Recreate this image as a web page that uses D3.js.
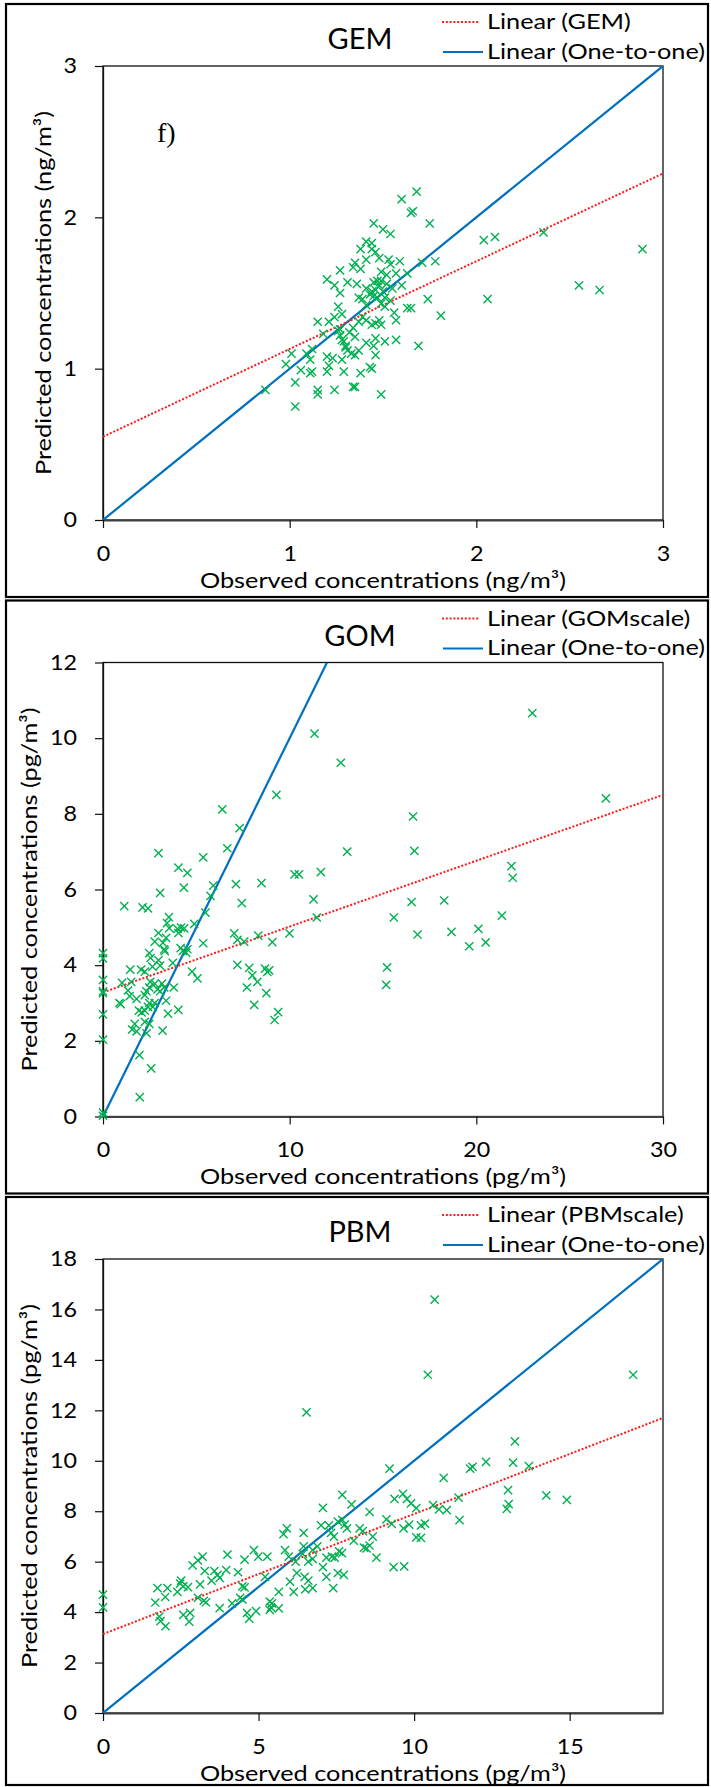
<!DOCTYPE html>
<html>
<head>
<meta charset="utf-8">
<script src="https://cdn.jsdelivr.net/npm/d3@7"></script>
<style>
  body { margin: 0; background: #fff; }
  svg { display: block; font-family: Lato, 'Open Sans', sans-serif; }
</style>
</head>
<body>
<svg id="chart" width="711" height="1787"></svg>
<script>
'use strict';

// GEM panel (ng/m3)
const gemObserved = [1.68, 1.60, 1.65, 1.66, 1.45, 1.75, 1.50, 1.54, 2.04, 2.10, 2.36, 2.89, 2.55, 2.66, 2.06, 1.78, 1.71, 1.74, 1.81, 1.69,
  0.87, 0.98, 1.01, 1.03, 1.03, 1.15, 1.15, 1.24, 1.34, 1.35, 1.49, 1.06, 1.12, 1.11, 1.20, 1.29, 1.38, 1.43, 1.44, 1.21,
  1.11, 1.20, 1.23, 1.28, 1.35, 1.46, 1.09, 1.12, 1.30, 1.31, 1.37, 1.41, 1.46, 1.51, 1.57, 1.45, 1.15, 1.18, 1.21, 1.24,
  1.27, 1.27, 1.29, 1.26, 1.28, 1.34, 1.35, 1.37, 1.39, 1.41, 1.44, 1.46, 1.48, 1.49, 1.57, 1.56, 1.51, 1.63, 1.65, 1.60,
  1.20, 1.24, 1.27, 1.27, 1.31, 1.36, 1.34, 1.35, 1.38, 1.38, 1.41, 1.44, 1.44, 1.46, 1.41, 1.48, 1.53, 1.54, 1.59, 1.49,
  1.52, 1.57, 1.63, 1.45, 1.47, 1.49, 1.41, 1.43, 1.44, 1.45, 1.37, 1.39, 1.50, 1.51, 1.55, 1.54, 1.49, 1.41, 1.26, 1.28,
  1.30, 1.33, 1.32, 1.48, 1.46, 1.52, 1.47];
const gemPredicted = [2.17, 2.12, 2.03, 2.04, 1.96, 1.96, 1.92, 1.89, 1.85, 1.87, 1.90, 1.79, 1.55, 1.52, 1.46, 1.71, 1.70, 1.46, 1.35, 1.15,
  0.86, 1.03, 1.10, 0.91, 0.75, 0.86, 0.83, 0.86, 0.88, 0.88, 0.83, 0.99, 0.98, 0.97, 0.98, 0.98, 0.97, 1.01, 1.00, 1.02,
  1.06, 1.08, 1.07, 1.06, 1.09, 1.09, 1.10, 1.13, 1.15, 1.12, 1.12, 1.17, 1.20, 1.18, 1.19, 1.15, 1.31, 1.23, 1.31, 1.34,
  1.26, 1.22, 1.18, 1.41, 1.36, 1.27, 1.21, 1.31, 1.34, 1.32, 1.29, 1.30, 1.32, 1.29, 1.32, 1.37, 1.41, 1.40, 1.40, 1.55,
  1.59, 1.55, 1.50, 1.65, 1.57, 1.56, 1.67, 1.70, 1.66, 1.79, 1.84, 1.83, 1.79, 1.77, 1.72, 1.73, 1.72, 1.69, 1.71, 1.64,
  1.62, 1.63, 1.63, 1.57, 1.58, 1.58, 1.53, 1.49, 1.51, 1.48, 1.47, 1.46, 1.51, 1.47, 1.53, 1.45, 1.43, 1.42, 1.25, 1.19,
  1.14, 1.10, 1.24, 1.55, 1.52, 1.56, 1.47];
const gemFit = [0.55, 0.58]; // intercept, slope
const gemTicks = [0, 1, 2, 3];

// GOM panel (pg/m3)
const gomObserved = [23.0, 11.33, 12.74, 9.29, 26.94, 6.39, 7.32, 16.61, 6.66, 16.68, 13.08, 2.97, 5.37, 4.04, 4.52, 10.26, 10.50, 11.67, 21.88, 21.95,
  4.33, 5.91, 7.12, 8.49, 3.06, 5.76, 11.28, 7.44, 16.53, 18.28, 1.14, 2.12, 2.41, 3.53, 11.45, 15.58, 21.37, 5.49, 3.43, 3.55,
  4.89, 3.99, 4.18, 4.35, 4.04, 2.97, 7.03, 9.99, 8.32, 20.11, 18.67, 16.85, 2.77, 3.38, 3.21, 5.37, 7.20, 7.56, 9.07, 20.50,
  19.62, 3.28, 3.31, 4.16, 4.28, 4.52, 2.48, 0, 0, 2.55, 2.97, 3.74, 4.45, 15.22, 7.20, 7.83, 8.68, 8.80, 8.90, 8.00,
  8.27, 7.71, 8.75, 8.10, 9.38, 9.19, 15.17, 4.77, 5.06, 1.46, 2.04, 2.24, 2.65, 3.06, 0, 0, 0, 0.88, 0.95, 1.02,
  1.51, 1.34, 1.43, 1.80, 2.24, 2.33, 2.48, 2.53, 2.77, 2.92, 3.06, 3.28, 3.16, 3.38, 3.79, 3.48, 4.04, 2.67, 2.77, 1.92,
  2.07, 2.24, 2.41, 2.48, 0, 1.70, 1.56, 1.80, 2.24, 2.33, 2.48, 3.19, 0, 1.95, 2.58, 1.97, 0, 0];
const gomPredicted = [10.66, 10.12, 9.35, 8.50, 8.41, 8.12, 7.62, 7.93, 7.09, 7.02, 7.00, 6.96, 6.85, 6.58, 6.44, 6.40, 6.40, 6.46, 6.62, 6.31,
  6.05, 6.10, 6.14, 6.17, 5.91, 5.83, 5.74, 5.64, 5.67, 5.71, 5.56, 5.53, 5.50, 5.27, 5.26, 5.26, 5.31, 5.39, 5.11, 4.98,
  5.09, 4.96, 4.99, 4.97, 4.85, 4.85, 4.84, 4.84, 4.78, 4.96, 4.88, 4.81, 4.62, 4.72, 4.59, 4.58, 4.67, 4.62, 4.61, 4.60,
  4.50, 4.42, 4.37, 4.45, 4.38, 4.42, 4.32, 4.32, 4.18, 4.19, 4.13, 4.06, 4.33, 3.94, 4.01, 3.93, 3.91, 3.82, 3.86, 3.73,
  3.56, 3.41, 3.26, 2.95, 2.76, 2.55, 3.48, 3.83, 3.65, 3.88, 3.88, 3.83, 3.96, 3.99, 3.61, 3.31, 3.26, 3.00, 2.97, 3.53,
  3.56, 3.33, 3.18, 3.11, 3.21, 3.31, 3.41, 3.56, 3.51, 3.36, 3.31, 3.41, 3.51, 3.06, 3.41, 2.72, 2.82, 2.90, 3.00, 2.80,
  2.75, 2.80, 2.90, 3.00, 2.70, 2.45, 2.30, 2.25, 2.50, 2.20, 2.45, 2.27, 2.03, 1.62, 1.27, 0.51, 0.10, 0.02];
const gomFit = [3.28, 0.174];
const gomTicksX = [0, 10, 20, 30];
const gomTicksY = [0, 2, 4, 6, 8, 10, 12];

// PBM panel (pg/m3)
const pbmObserved = [10.66, 10.44, 17.04, 6.54, 13.24, 12.31, 13.18, 11.80, 11.88, 13.69, 9.21, 10.95, 7.69, 9.64, 14.25, 14.91, 13.02, 9.37, 9.77, 11.43,
  7.99, 7.07, 9.90, 10.07, 10.61, 10.80, 11.05, 13.04, 12.98, 11.46, 8.57, 9.11, 9.28, 7.69, 7.77, 7.55, 7.26, 7.01, 7.84, 8.25,
  7.33, 7.42, 6.45, 5.80, 5.91, 8.35, 9.66, 9.84, 10.22, 10.35, 10.07, 10.22, 8.67, 8.06, 8.39, 8.47, 8.57, 6.89, 6.74, 6.45,
  5.85, 6.42, 7.59, 7.68, 7.36, 7.45, 7.18, 8.79, 9.34, 9.68, 5.97, 6.19, 6.60, 6.74, 7.07, 7.55, 7.74, 7.18, 7.40, 6.48,
  6.60, 6.23, 6.01, 6.50, 6.74, 6.13, 5.65, 5.65, 5.43, 5.36, 5.40, 5.36, 5.21, 5.28, 4.99, 4.85, 4.55, 4.34, 4.48, 4.55,
  4.41, 4.48, 4.92, 4.63, 4.70, 4.15, 4.00, 3.96, 3.68, 3.58, 3.75, 3.49, 3.20, 3.05, 2.88, 3.27, 3.12, 3.24, 3.31, 3.05,
  3.75, 2.73, 2.58, 2.51, 2.48, 2.39, 2.07, 2.00, 1.75, 1.68, 1.81, 1.85, 2.01, 2.58, 2.80, 2.77, 0, 0];
const pbmPredicted = [16.39, 13.41, 13.41, 11.92, 10.77, 9.96, 9.93, 9.69, 9.76, 9.79, 9.69, 9.32, 8.65, 8.69, 8.63, 8.45, 8.84, 8.49, 8.49, 8.54,
  8.27, 8.13, 8.31, 8.12, 8.24, 8.07, 8.04, 8.28, 8.09, 7.65, 7.97, 7.68, 7.50, 7.66, 7.47, 7.59, 7.44, 7.44, 7.32, 7.32,
  7.14, 6.99, 7.14, 7.09, 7.32, 7.21, 7.32, 7.47, 7.44, 7.51, 6.96, 6.94, 6.99, 6.83, 6.56, 6.53, 6.64, 6.61, 6.46, 6.61,
  6.46, 6.31, 6.41, 6.34, 6.20, 6.16, 6.16, 6.16, 5.78, 5.81, 6.20, 6.00, 6.00, 6.11, 5.78, 5.55, 5.48, 5.40, 4.95, 5.40,
  5.25, 5.55, 5.21, 4.90, 4.95, 4.80, 4.80, 4.15, 4.35, 4.42, 4.19, 4.09, 5.40, 6.20, 6.20, 6.46, 6.08, 5.58, 5.02, 4.98,
  4.57, 4.50, 4.04, 3.97, 3.74, 4.35, 6.28, 5.67, 5.48, 5.63, 5.36, 5.25, 6.20, 6.05, 5.85, 5.63, 5.10, 4.45, 4.39, 4.57,
  4.16, 4.99, 5.02, 5.25, 5.13, 4.80, 4.95, 4.60, 4.95, 4.38, 3.82, 3.64, 3.44, 3.89, 3.97, 3.62, 4.69, 4.19];
const pbmFit = [3.13, 0.476];
const pbmTicksX = [0, 5, 10, 15];
const pbmTicksY = [0, 2, 4, 6, 8, 10, 12, 14, 16, 18];

const GREEN = '#00b050';
const BLUE = '#0070c0';
const RED = '#ff1a1a';

const plotLeft = 103;
const plotRight = 663;
const plotHeight = 454;
// the pasted Excel charts are a little stretched sideways
const SX = 1.15;
const TICK_SX = 1.11;

const panels = [
  {title: 'GEM', unit: 'ng/m³', obs: gemObserved, pred: gemPredicted, fit: gemFit, xMax: 3, yMax: 3,
    xTicks: gemTicks, yTicks: gemTicks, fitLabel: 'Linear (GEM)', top: 66, yTitleX: 51, tag: 'f)'},
  {title: 'GOM', unit: 'pg/m³', obs: gomObserved, pred: gomPredicted, fit: gomFit, xMax: 30, yMax: 12,
    xTicks: gomTicksX, yTicks: gomTicksY, fitLabel: 'Linear (GOMscale)', top: 662.5, yTitleX: 37},
  {title: 'PBM', unit: 'pg/m³', obs: pbmObserved, pred: pbmPredicted, fit: pbmFit, xMax: 18, yMax: 18,
    xTicks: pbmTicksX, yTicks: pbmTicksY, fitLabel: 'Linear (PBMscale)', top: 1259, yTitleX: 37},
];

const svg = d3.select('#chart');

function stretchedText(parent, x, y, size, str, anchor, rotate) {
  const rot = rotate ? ` rotate(${rotate})` : '';
  return parent.append('text')
    .attr('transform', `translate(${x},${y})${rot} scale(${SX},1)`)
    .attr('text-anchor', anchor || 'start')
    .style('font-size', `${size}px`)
    .text(str);
}

function drawPanel(p, i) {
  const g = svg.append('g').attr('transform', `translate(0,${p.top})`);

  // outer frame of each pasted chart
  const boxTop = -62;
  const boxBottom = Math.min(plotHeight + 77, 1785 - p.top);
  g.append('rect')
    .attr('x', 6).attr('y', boxTop)
    .attr('width', 702).attr('height', boxBottom - boxTop)
    .attr('fill', 'none').attr('stroke', '#000').attr('stroke-width', 2.2);

  const x = d3.scaleLinear().domain([0, p.xMax]).range([plotLeft, plotRight]);
  const y = d3.scaleLinear().domain([0, p.yMax]).range([plotHeight, 0]);

  g.append('rect')
    .attr('x', plotLeft).attr('y', 0)
    .attr('width', plotRight - plotLeft).attr('height', plotHeight)
    .attr('fill', 'none').attr('stroke', '#111').attr('stroke-width', 1.3);

  const yAxis = g.append('g')
    .attr('transform', `translate(${plotLeft},0)`)
    .call(d3.axisLeft(y).tickValues(p.yTicks).tickFormat(d3.format('d'))
      .tickSize(8).tickSizeOuter(0).tickPadding(15.5));
  yAxis.select('.domain').attr('stroke', '#111').attr('stroke-width', 1.3);

  const xAxis = g.append('g')
    .attr('transform', `translate(0,${plotHeight})`)
    .call(d3.axisBottom(x).tickValues(p.xTicks).tickFormat(d3.format('d'))
      .tickSize(8).tickSizeOuter(0).tickPadding(18));
  xAxis.select('.domain').attr('stroke', '#404040').attr('stroke-width', 2);

  g.selectAll('.tick line').attr('stroke', '#111').attr('stroke-width', 1.2);
  g.selectAll('.tick text')
    .attr('fill', '#000')
    .attr('transform', `scale(${TICK_SX},1)`)
    .style('font-family', 'Lato, sans-serif')
    .style('font-size', '21px');

  // axis titles
  stretchedText(g, (plotLeft + plotRight) / 2, plotHeight + 67.5, 22,
    `Observed concentrations (${p.unit})`, 'middle');
  stretchedText(g, p.yTitleX, plotHeight / 2, 22,
    `Predicted concentrations (${p.unit})`, 'middle', -90);

  // chart title
  g.append('text')
    .attr('x', 360).attr('y', -17)
    .attr('text-anchor', 'middle').style('font-size', '29px')
    .text(p.title);

  if (p.tag) {
    g.append('text')
      .attr('x', 157).attr('y', 76)
      .style('font-family', "'Liberation Serif', 'Times New Roman', serif")
      .style('font-size', '28px')
      .text(p.tag);
  }

  const clipId = `clip-${i}`;
  g.append('clipPath').attr('id', clipId)
    .append('rect').attr('x', plotLeft).attr('y', 0)
    .attr('width', plotRight - plotLeft).attr('height', plotHeight);

  const lines = g.append('g').attr('clip-path', `url(#${clipId})`);

  // one-to-one line
  const oneMax = Math.min(p.xMax, p.yMax);
  lines.append('line')
    .attr('x1', x(0)).attr('y1', y(0))
    .attr('x2', x(oneMax)).attr('y2', y(oneMax))
    .attr('stroke', BLUE).attr('stroke-width', 2.2);

  // fitted trend line
  const [b, m] = p.fit;
  lines.append('line')
    .attr('x1', x(0)).attr('y1', y(b))
    .attr('x2', x(p.xMax)).attr('y2', y(b + m * p.xMax))
    .attr('stroke', RED).attr('stroke-width', 2)
    .attr('stroke-dasharray', '2,1.8');

  const pts = p.obs.map((v, k) => ({obs: v, pred: p.pred[k]}));
  g.append('g')
    .selectAll('path')
    .data(pts)
    .enter()
    .append('path')
    .attr('transform', (d) => `translate(${x(d.obs)},${y(d.pred)})`)
    .attr('d', 'M-4.1,-4.1L4.1,4.1M-4.1,4.1L4.1,-4.1')
    .attr('stroke', GREEN).attr('stroke-width', 1.4)
    .attr('fill', 'none');

  // legend
  const legend = g.append('g');
  legend.append('line')
    .attr('x1', 442).attr('x2', 480).attr('y1', -44).attr('y2', -44)
    .attr('stroke', RED).attr('stroke-width', 2).attr('stroke-dasharray', '2,1.8');
  legend.append('line')
    .attr('x1', 443).attr('x2', 483).attr('y1', -14).attr('y2', -14)
    .attr('stroke', BLUE).attr('stroke-width', 2.2);
  stretchedText(legend, 487, -37, 22, p.fitLabel);
  stretchedText(legend, 487, -7.5, 22, 'Linear (One-to-one)');
}

panels.forEach(drawPanel);
</script>
</body>
</html>
